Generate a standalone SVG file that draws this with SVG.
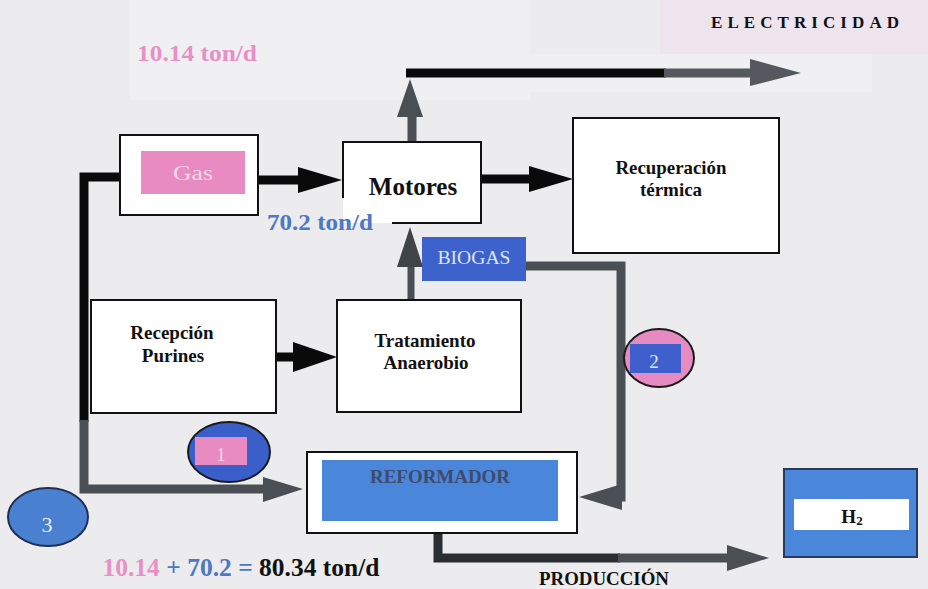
<svg xmlns="http://www.w3.org/2000/svg" width="928" height="589" viewBox="0 0 928 589">
<style>
  .box { fill: #ffffff; stroke: #111111; stroke-width: 2; }
  .lbl { font-family: "Liberation Serif", "Times New Roman", serif; font-weight: bold; fill: #111111; text-anchor: middle; }
  .lt { font-weight: normal; }
  .blk { fill: none; stroke: #0a0a0a; stroke-width: 9; }
  .gry { fill: none; stroke: #4a4f55; stroke-width: 9; }
  .hblk { fill: #0a0a0a; }
  .hgry { fill: #4a4f55; }
  .pinkt { fill: #e88fc6; }
  .bluet { fill: #4c78c4; }
  .ell { stroke: #1a1a1a; stroke-width: 2; }
</style>
<!-- background -->
<rect x="0" y="0" width="928" height="589" fill="#ececef"/>
<rect x="130" y="0" width="400" height="100" fill="#f0f0f2"/>
<rect x="660" y="0" width="268" height="54" fill="#eee4ee"/>
<rect x="522" y="54" width="350" height="38" fill="#f0f0f2"/>

<!-- connectors -->
<g id="connectors">
  <!-- Gas -> Motores -->
  <line class="blk" x1="258" y1="180" x2="300" y2="180"/>
  <polygon class="hblk" points="298,167 342,180 298,193"/>
  <!-- Motores -> Recuperacion -->
  <line class="blk" x1="482" y1="179" x2="532" y2="179"/>
  <polygon class="hblk" points="529,166 573,179 529,192"/>
  <!-- Motores up to electricity line -->
  <line class="gry" x1="412" y1="142" x2="412" y2="115"/>
  <polygon class="hgry" points="397,117 410,79 423,117"/>
  <!-- Electricity line -->
  <line class="blk" x1="406" y1="73" x2="666" y2="73"/>
  <line class="gry" x1="664" y1="73" x2="754" y2="73" style="stroke:#55595f"/>
  <polygon class="hgry" points="750,59 801,73 750,86" style="fill:#55595f"/>
  <!-- Tratamiento up to Motores -->
  <line class="gry" x1="411" y1="300" x2="411" y2="264" style="stroke-width:7"/>
  <polygon class="hgry" points="397,267 410,227 423,267" style="fill:#3f4449"/>
  <!-- Recepcion -> Tratamiento -->
  <line class="blk" x1="276" y1="357" x2="296" y2="357"/>
  <polygon class="hblk" points="293,342 337,357 293,372"/>
  <!-- Left feed from Gas to Reformador -->
  <polyline class="blk" points="121,177 84,177 84,422"/>
  <polyline class="gry" points="84,420 84,489 268,489"/>
  <polygon class="hgry" points="263,477 303,489 263,502"/>
  <!-- BIOGAS -> Reformador -->
  <polyline class="gry" points="526,266 621,266 621,497 600,497"/>
  <polygon class="hgry" points="622,484 579,497 622,510"/>
  <!-- Reformador -> H2 (PRODUCCION) -->
  <polyline class="blk" points="438,533 438,558 620,558" style="stroke:#2a2d31"/>
  <line class="gry" x1="618" y1="558" x2="731" y2="558"/>
  <polygon class="hgry" points="727,545 769,558 727,571"/>
</g>

<!-- nodes -->
<g id="gas">
  <rect class="box" x="120" y="135" width="138" height="80"/>
  <rect x="141" y="151" width="104" height="43" fill="#e98bc3"/>
  <text class="lbl lt" x="193" y="180" font-size="20" style="fill:#f6d6e8" textLength="40" lengthAdjust="spacingAndGlyphs">Gas</text>
</g>
<g id="motores">
  <rect x="343" y="142" width="138" height="81" fill="#ffffff"/>
  <path d="M343,198 V142 H481 V223 H392" fill="none" stroke="#111111" stroke-width="2"/>
  <text class="lbl" x="413" y="195" font-size="25">Motores</text>
</g>
<g id="recuperacion">
  <rect class="box" x="573" y="118" width="206" height="135"/>
  <text class="lbl" x="671" y="174" font-size="19" textLength="111" lengthAdjust="spacingAndGlyphs">Recuperación</text>
  <text class="lbl" x="671" y="196" font-size="19">térmica</text>
</g>
<g id="recepcion">
  <rect class="box" x="91" y="300" width="185" height="113"/>
  <text class="lbl" x="172" y="339" font-size="19">Recepción</text>
  <text class="lbl" x="173" y="362" font-size="19">Purines</text>
</g>
<g id="tratamiento">
  <rect class="box" x="337" y="300" width="184" height="112"/>
  <text class="lbl" x="425" y="347" font-size="19">Tratamiento</text>
  <text class="lbl" x="426" y="369" font-size="19">Anaerobio</text>
</g>
<g id="biogas">
  <rect x="422" y="237" width="104" height="44" fill="#3d62cc"/>
  <text class="lbl lt" x="474" y="264" font-size="18" style="fill:#dfe4f4" textLength="73" lengthAdjust="spacingAndGlyphs">BIOGAS</text>
</g>
<g id="reformador">
  <rect class="box" x="307" y="452" width="270" height="81"/>
  <rect x="322" y="460" width="236" height="61" fill="#4a86da"/>
  <text class="lbl" x="440" y="483" font-size="19" style="fill:#3e4b6e" textLength="140" lengthAdjust="spacingAndGlyphs">REFORMADOR</text>
</g>
<g id="h2">
  <rect x="784" y="469" width="133" height="88" fill="#4a86da" stroke="#2a3a5a" stroke-width="2"/>
  <rect x="794" y="499" width="115" height="31" fill="#ffffff"/>
  <text class="lbl" x="852" y="523" font-size="19">H<tspan font-size="13" dy="2">2</tspan></text>
</g>
<g id="circle1">
  <ellipse class="ell" cx="229" cy="452" rx="41" ry="30" fill="#3a5fc8"/>
  <rect x="195" y="437" width="52" height="28" fill="#e98bc3"/>
  <text class="lbl lt" x="221" y="461" font-size="18" style="fill:#f6dcea">1</text>
</g>
<g id="circle2">
  <ellipse class="ell" cx="659" cy="358" rx="35" ry="29" fill="#e68ac2"/>
  <rect x="630" y="344" width="51" height="29" fill="#3f5fcc"/>
  <text class="lbl lt" x="654" y="368" font-size="19" style="fill:#e4e8f6">2</text>
</g>
<g id="circle3">
  <ellipse class="ell" cx="48" cy="517" rx="40" ry="29" fill="#4a80d0" style="stroke:#1f2f55"/>
  <text class="lbl lt" x="47" y="532" font-size="22" style="fill:#e6ecf8">3</text>
</g>

<!-- free labels -->
<g id="labels">
  <text class="lbl pinkt" x="197" y="61" font-size="24" textLength="120" lengthAdjust="spacingAndGlyphs">10.14 ton/d</text>
  <text class="lbl bluet" x="320" y="230" font-size="23" textLength="106" lengthAdjust="spacingAndGlyphs">70.2 ton/d</text>
  <text class="lbl" x="805" y="28" font-size="17" textLength="188" lengthAdjust="spacing">ELECTRICIDAD</text>
  <text class="lbl" x="604" y="585" font-size="19" textLength="130" lengthAdjust="spacingAndGlyphs">PRODUCCIÓN</text>
  <text class="lbl" x="241" y="576" font-size="25" textLength="277" lengthAdjust="spacingAndGlyphs"><tspan class="pinkt">10.14</tspan><tspan class="bluet"> + 70.2 = </tspan><tspan>80.34 ton/d</tspan></text>
</g>
</svg>
